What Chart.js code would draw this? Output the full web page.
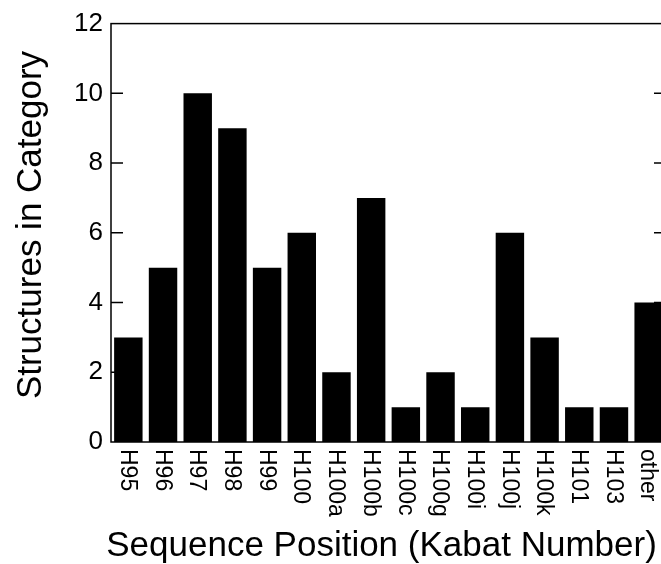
<!DOCTYPE html>
<html>
<head>
<meta charset="utf-8">
<script src="https://cdn.jsdelivr.net/npm/chart.js@4"></script>
<style>
  html, body { margin: 0; padding: 0; background: #fff; overflow: hidden; }
  #wrap { width: 668px; height: 564px; }
</style>
</head>
<body>
<div id="wrap"><canvas id="chart" width="668" height="564"></canvas></div>
<script>
// Chart data
const categories = ["H95", "H96", "H97", "H98", "H99", "H100", "H100a", "H100b",
  "H100c", "H100g", "H100i", "H100j", "H100k", "H101", "H103", "other"];
const counts = [3, 5, 10, 9, 5, 6, 2, 7, 1, 2, 1, 6, 3, 1, 1, 4];
const yTitle = "Structures in Category";
const xTitle = "Sequence Position (Kabat Number)";
const fontFamily = "'Liberation Sans', Arial, Helvetica, sans-serif";

// Draws the frame, inward tick marks, rotated category labels and axis titles
const framePlugin = {
  id: "frame",
  afterDraw(chart) {
    const { ctx, chartArea: area, scales } = chart;
    const x = scales.x;
    const y = scales.y;
    ctx.save();
    ctx.strokeStyle = "#000";
    ctx.lineWidth = 1.5;
    ctx.strokeRect(area.left, area.top, area.right - area.left, area.bottom - area.top);

    // tick marks pointing into the plot, both sides
    y.ticks.forEach((t) => {
      if (t.value === y.min || t.value === y.max) return;
      const py = y.getPixelForValue(t.value);
      ctx.beginPath();
      ctx.moveTo(area.left, py);
      ctx.lineTo(area.left + 12, py);
      ctx.moveTo(area.right - 12, py);
      ctx.lineTo(area.right, py);
      ctx.stroke();
    });

    // category labels reading top to bottom
    ctx.fillStyle = "#000";
    ctx.font = "23px " + fontFamily;
    ctx.textAlign = "left";
    ctx.textBaseline = "middle";
    categories.forEach((label, i) => {
      const px = x.getPixelForValue(i);
      ctx.save();
      ctx.translate(px - 1, area.bottom + 7);
      ctx.rotate(Math.PI / 2);
      ctx.fillText(label, 0, 0);
      ctx.restore();
    });

    // axis titles
    ctx.font = "35px " + fontFamily;
    ctx.textAlign = "center";
    ctx.fillText(xTitle, (area.left + area.right) / 2 - 7, 546);
    ctx.save();
    ctx.translate(31, 225);
    ctx.rotate(-Math.PI / 2);
    ctx.fillText(yTitle, 0, 0);
    ctx.restore();
    ctx.restore();
  }
};

new Chart(document.getElementById("chart"), {
  type: "bar",
  data: {
    labels: categories,
    datasets: [{
      data: counts,
      backgroundColor: "#000",
      borderWidth: 0,
      barPercentage: 0.82,
      categoryPercentage: 1.0
    }]
  },
  options: {
    responsive: false,
    devicePixelRatio: 1,
    animation: false,
    layout: { padding: { top: 23, right: 2, left: 0, bottom: 0 } },
    plugins: {
      legend: { display: false },
      tooltip: { enabled: false }
    },
    scales: {
      x: {
        grid: { display: false },
        border: { display: false },
        ticks: { display: false },
        afterFit: (scale) => { scale.height = 122; }
      },
      y: {
        min: 0,
        max: 12,
        grid: { display: false, drawTicks: false },
        border: { display: false },
        ticks: {
          stepSize: 2,
          padding: 8,
          color: "#000",
          font: { size: 26, family: fontFamily }
        },
        afterFit: (scale) => { scale.width = 111; }
      }
    }
  },
  plugins: [framePlugin]
});
</script>
</body>
</html>
